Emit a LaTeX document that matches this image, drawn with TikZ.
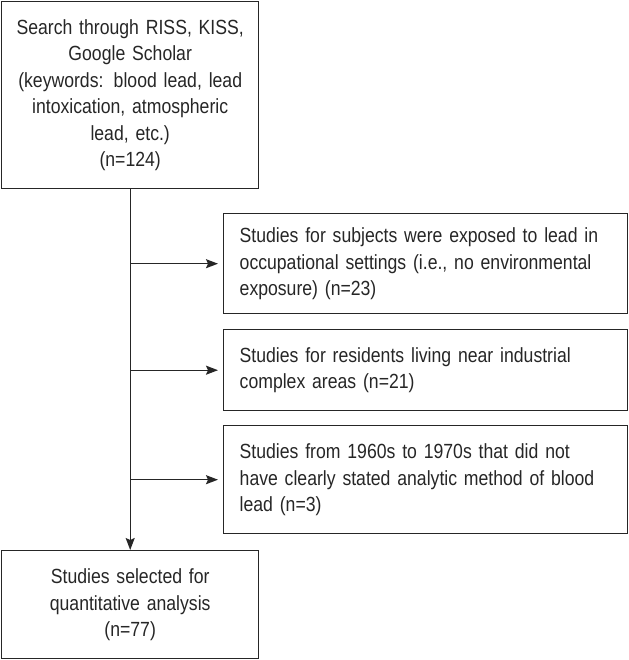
\documentclass[tikz,border=0pt]{standalone}
\usepackage{fontspec}
\setmainfont{Liberation Sans}[FakeStretch=0.86]
\usetikzlibrary{arrows.meta}
\begin{document}
\begin{tikzpicture}[x=1pt,y=-1pt,
		box/.style={draw=black!85, line width=1.4pt, anchor=north west, font=\fontsize{20.5}{26.5}\selectfont, text=black!85},
		mainbox/.style={box, minimum width=257pt, inner xsep=5pt, text width=247pt, align=center},
		sidebox/.style={box, minimum width=404pt, inner xsep=16pt, text width=372pt, align=left},
		flow/.style={draw=black!85, line width=1.4pt, -{Stealth[length=12pt,width=9pt,inset=2pt]}}]
	\useasboundingbox (0,0) rectangle (628,660);
	% boxes
	\node[mainbox, minimum height=187pt] (search) at (1,1) {Search through RISS, KISS,\\Google Scholar\\(keywords: blood lead, lead\\intoxication, atmospheric\\lead, etc.)\\(n=124)};
	\node[sidebox, minimum height=100pt] (occup) at (223,213) {Studies for subjects were exposed to lead in\\occupational settings (i.e., no environmental\\exposure) (n=23)};
	\node[sidebox, minimum height=81pt] (resid) at (223,329) {Studies for residents living near industrial\\complex areas (n=21)};
	\node[sidebox, minimum height=108pt] (method) at (223,425) {Studies from 1960s to 1970s that did not\\have clearly stated analytic method of blood\\lead (n=3)};
	\node[mainbox, minimum height=108pt] (selected) at (1,550) {Studies selected for\\quantitative analysis\\(n=77)};
	% arrows
	\draw[flow] (search.south) -- (search.south |- selected.north);
	\draw[flow, shorten >=5pt] (search.south |- occup.west) -- (occup.west);
	\draw[flow, shorten >=5pt] (search.south |- resid.west) -- (resid.west);
	\draw[flow, shorten >=5pt] (search.south |- method.west) -- (method.west);
\end{tikzpicture}
\end{document}
